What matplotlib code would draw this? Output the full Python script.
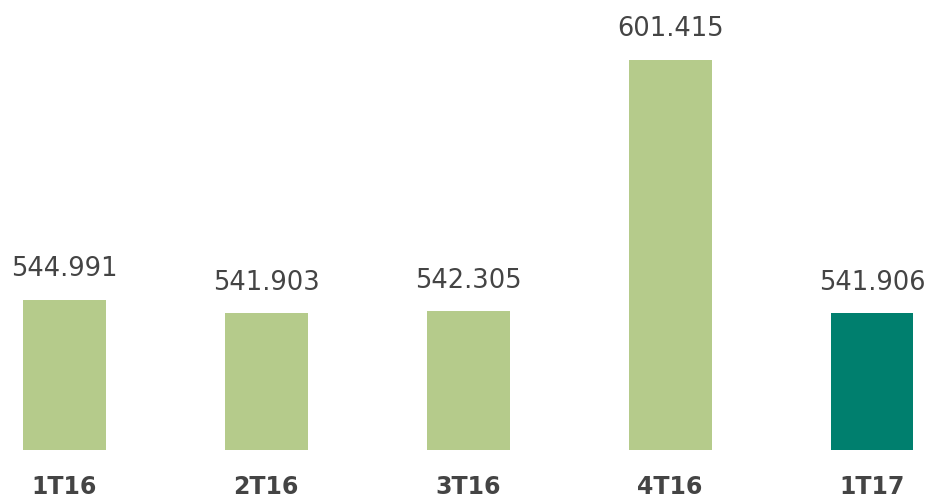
import matplotlib.pyplot as plt

# Quarterly values
quarters = ['1T16', '2T16', '3T16', '4T16', '1T17']
values = [544.991, 541.903, 542.305, 601.415, 541.906]
labels = ['544.991', '541.903', '542.305', '601.415', '541.906']
colors = ['#b5cb8b', '#b5cb8b', '#b5cb8b', '#b5cb8b', '#007f6e']

fig = plt.figure(figsize=(9.26, 4.98), dpi=100)
ax = fig.add_axes([0, 48 / 498, 1, 450 / 498])

x = range(len(quarters))
ax.bar(x, values, width=0.41, color=colors, bottom=0)

ax.set_xlim(-0.318, 4.267)
ax.set_ylim(509.73, 615.5)

# value labels above bars
for i, v in enumerate(values):
    ax.annotate(labels[i], (i, v), xytext=(0, 22), textcoords='offset points',
                ha='center', va='center', fontsize=18.5, color='#444444')

ax.set_xticks(list(x))
ax.set_xticklabels(quarters, fontsize=17, fontweight='bold', color='#444444')
ax.tick_params(axis='x', length=0, pad=18)
ax.set_yticks([])
for s in ax.spines.values():
    s.set_visible(False)

fig.savefig('out.png', dpi=100)
